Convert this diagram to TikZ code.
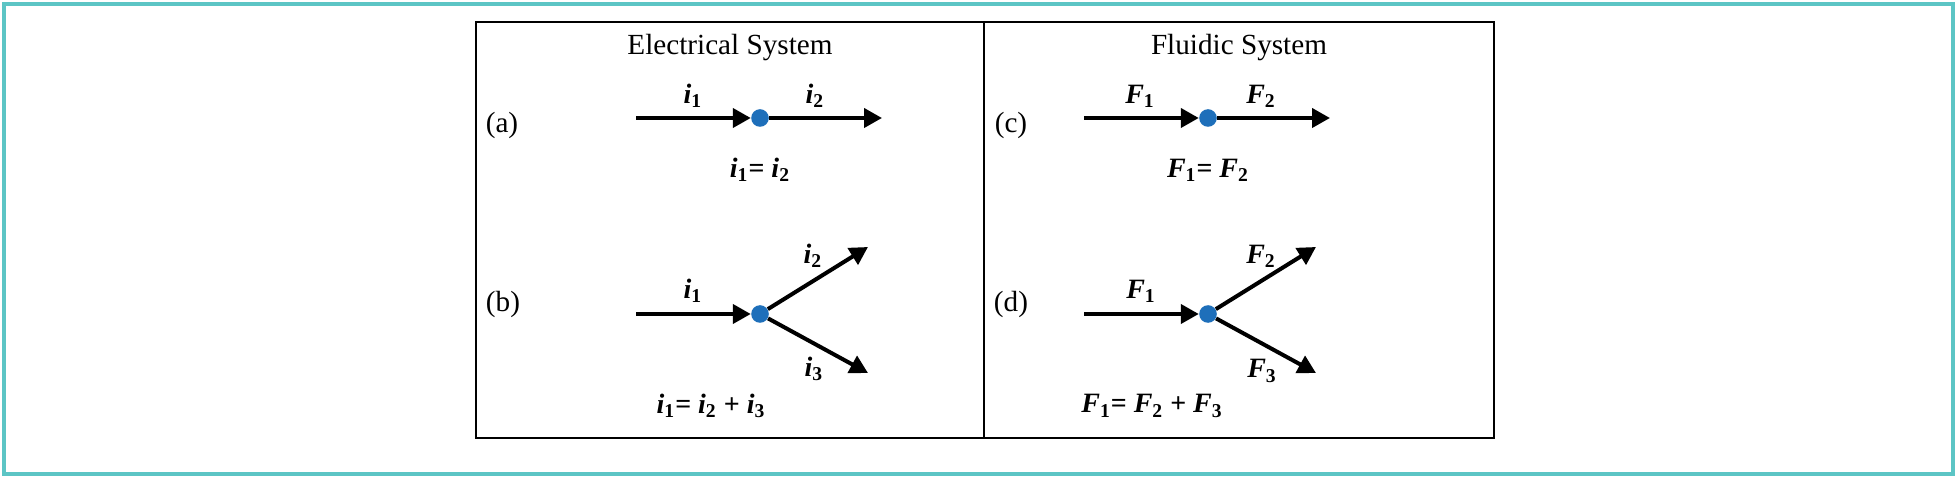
\documentclass[tikz,border=0pt]{standalone}
\usepackage{fontspec}
\setmainfont{Liberation Serif}
\usetikzlibrary{arrows.meta}
\definecolor{tealframe}{HTML}{5CC5C5}
\definecolor{dotblue}{HTML}{1E6FBA}
\newcommand{\vq}[2]{{\bfseries\itshape #1}\textsubscript{\bfseries\upshape #2}}
\begin{document}
\begin{tikzpicture}[x=0.5pt,y=-0.5pt,
  frame/.style={draw=tealframe,line width=2pt},
  panel/.style={draw=black,line width=1.25pt},
  title/.style={font=\fontsize{14.6}{17}\selectfont,inner sep=0},
  tag/.style={font=\fontsize{14.6}{17}\selectfont,inner sep=0},
  lbl/.style={font=\fontsize{14}{16}\selectfont\bfseries,inner sep=0},
  junction/.style={circle,fill=dotblue,minimum size=8.8pt,inner sep=0},
  flow/.style={line width=2pt,-{Triangle[length=9pt,width=9.5pt]}},
]
\useasboundingbox (0,0) rectangle (1960,480);
\draw[frame] (4,4) rectangle (1953,474);
\draw[panel] (476,22) rectangle (1494,438);
\draw[panel] (984,22) -- (984,438);

\node[title] (te) at (730,48) {Electrical System};
\node[title] (tf) at (1239,48) {Fluidic System};
\node[tag] (la) at (502,125) {(a)};
\node[tag] (lb) at (503,304) {(b)};
\node[tag] (lc) at (1011,125) {(c)};
\node[tag] (ld) at (1011,304) {(d)};

% (a)
\coordinate (sa) at (636,118);
\coordinate (ea) at (882,118);
\node[junction] (ja) at (760,118) {};
\draw[flow] (sa) -- (ja.west);
\draw[flow] (ja) -- (ea);
\node[lbl] (ai1) at (693,96) {\vq{i}{1}};
\node[lbl] (ai2) at (815,96) {\vq{i}{2}};
\node[lbl] (aeq) at (760,170) {\vq{i}{1}= \vq{i}{2}};

% (b)
\coordinate (sb) at (636,314);
\coordinate (ub) at (868,247);
\coordinate (db) at (868,373);
\node[junction] (jb) at (760,314) {};
\draw[flow] (sb) -- (jb.west);
\draw[flow] (jb) -- (ub);
\draw[flow] (jb) -- (db);
\node[lbl] (bi1) at (693,291) {\vq{i}{1}};
\node[lbl] (bi2) at (813,256) {\vq{i}{2}};
\node[lbl] (bi3) at (814,369) {\vq{i}{3}};
\node[lbl] (beq) at (711,406) {\vq{i}{1}= \vq{i}{2} + \vq{i}{3}};

% (c)
\coordinate (sc) at (1084,118);
\coordinate (ec) at (1330,118);
\node[junction] (jc) at (1208,118) {};
\draw[flow] (sc) -- (jc.west);
\draw[flow] (jc) -- (ec);
\node[lbl] (cf1) at (1140,96) {\vq{F}{1}};
\node[lbl] (cf2) at (1261,96) {\vq{F}{2}};
\node[lbl] (ceq) at (1208,170) {\vq{F}{1}= \vq{F}{2}};

% (d)
\coordinate (sd) at (1084,314);
\coordinate (ud) at (1316,247);
\coordinate (dd) at (1316,373);
\node[junction] (jd) at (1208,314) {};
\draw[flow] (sd) -- (jd.west);
\draw[flow] (jd) -- (ud);
\draw[flow] (jd) -- (dd);
\node[lbl] (df1) at (1141,291) {\vq{F}{1}};
\node[lbl] (df2) at (1261,256) {\vq{F}{2}};
\node[lbl] (df3) at (1262,371) {\vq{F}{3}};
\node[lbl] (deq) at (1152,406) {\vq{F}{1}= \vq{F}{2} + \vq{F}{3}};
\end{tikzpicture}
\end{document}
